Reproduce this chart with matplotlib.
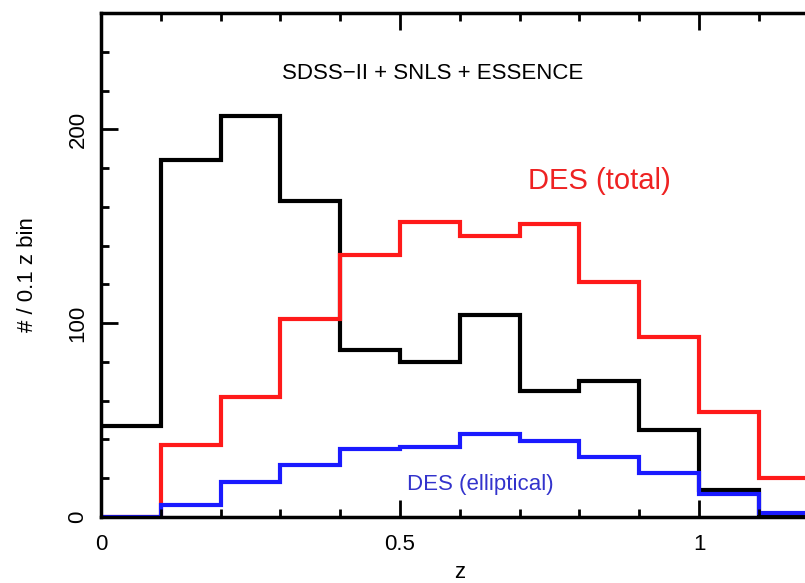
import numpy as np
import matplotlib
matplotlib.use('Agg')
import matplotlib.pyplot as plt
from matplotlib.ticker import MultipleLocator, FixedLocator, FixedFormatter

plt.rcParams['font.family'] = ['Liberation Sans', 'DejaVu Sans']

# redshift bin edges, 0.1 wide
z_edges = [0.0, 0.1, 0.2, 0.3, 0.4, 0.5, 0.6, 0.7, 0.8, 0.9, 1.0, 1.1, 1.2]

# counts per 0.1 z bin
sdss_snls_essence = [47, 184, 207, 163, 86, 80, 104, 65, 70, 45, 14, 1]
des_total = [0, 37, 62, 102, 135, 152, 145, 151, 121, 93, 54, 20]
des_elliptical = [0, 6, 18, 27, 35, 36, 43, 39, 31, 22.5, 12, 2]

x_ticks = [0, 0.5, 1]
x_ticklabels = ['0', '0.5', '1']
y_ticks = [0, 100, 200]
y_ticklabels = ['0', '100', '200']

fig = plt.figure(figsize=(8.05, 5.83), dpi=100)
# axes run a little past the right edge, like the cropped original
ax = fig.add_axes([0.1255, 0.1132, 0.8914, 0.8645])

ax.stairs(sdss_snls_essence, z_edges, color='black', lw=3, baseline=None)
ax.stairs(des_total, z_edges, color='#ff1a1a', lw=3, baseline=None)
ax.stairs(des_elliptical, z_edges, color='#1a1aff', lw=3, baseline=None)

ax.set_xlim(0, 1.2)
ax.set_ylim(0, 260)

ax.xaxis.set_major_locator(FixedLocator(x_ticks))
ax.xaxis.set_major_formatter(FixedFormatter(x_ticklabels))
ax.xaxis.set_minor_locator(MultipleLocator(0.1))
ax.yaxis.set_major_locator(FixedLocator(y_ticks))
ax.yaxis.set_major_formatter(FixedFormatter(y_ticklabels))
ax.yaxis.set_minor_locator(MultipleLocator(20))

ax.tick_params(which='both', direction='in', top=True, right=False, width=2, labelsize=16)
ax.tick_params(which='major', length=12)
ax.tick_params(which='minor', length=6)
ax.tick_params(axis='x', which='major', pad=12)
ax.tick_params(axis='y', which='major', pad=9)
for lab in ax.get_yticklabels():
    lab.set_rotation(90)
    lab.set_va('center')
for sp in ax.spines.values():
    sp.set_linewidth(2.5)

ax.set_xlabel('z', fontsize=16)
ax.xaxis.label.set_va('center')
ax.xaxis.set_label_coords(0.5, -0.11)
ax.set_ylabel('# / 0.1 z bin', fontsize=16)
ax.yaxis.label.set_va('center')
ax.yaxis.set_label_coords(-0.103, 0.482)

ax.text(0.554, 229, 'SDSS\u2212II + SNLS + ESSENCE', fontsize=16, ha='center', va='center')
ax.text(0.834, 173.5, 'DES (total)', fontsize=21, color='#ee2222', ha='center', va='center')
ax.text(0.635, 17, 'DES (elliptical)', fontsize=16, color='#3333cc', ha='center', va='center')

fig.savefig('out.png', dpi=100)
